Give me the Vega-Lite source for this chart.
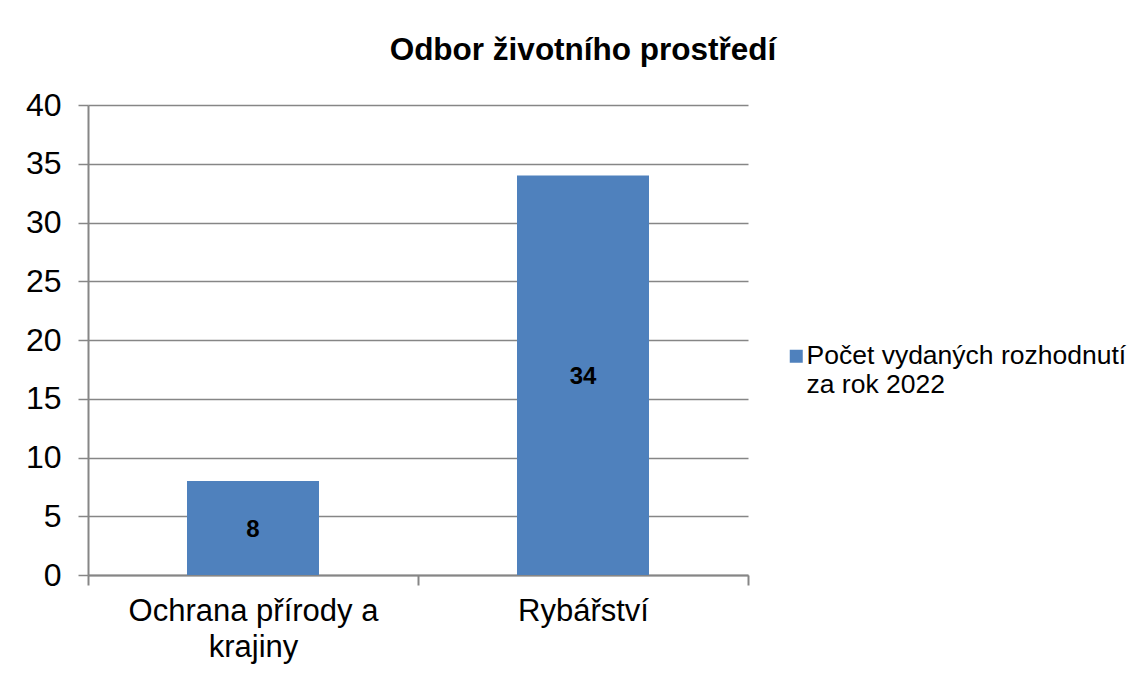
{
  "$schema": "https://vega.github.io/schema/vega-lite/v6.json",
  "autosize": {"type": "none"},
  "width": 660,
  "height": 470,
  "padding": {"left": 88, "top": 105, "right": 398, "bottom": 100},
  "background": "white",
  "title": {
    "text": "Odbor životního prostředí",
    "font": "Liberation Sans",
    "fontSize": 31.5,
    "fontWeight": "bold",
    "color": "#000000",
    "anchor": "middle",
    "frame": "group",
    "dx": 165,
    "offset": 23
  },
  "data": {
    "values": [
      {"category": "Ochrana přírody a krajiny", "value": 8, "series": "Počet vydaných rozhodnutí za rok 2022"},
      {"category": "Rybářství", "value": 34, "series": "Počet vydaných rozhodnutí za rok 2022"}
    ]
  },
  "encoding": {
    "x": {
      "field": "category",
      "type": "nominal",
      "sort": null,
      "scale": {"paddingInner": 0, "paddingOuter": 0},
      "axis": {
        "title": null,
        "labelAngle": 0,
        "labelFont": "Liberation Sans",
        "labelFontSize": 31,
        "labelColor": "#000000",
        "labelPadding": 11,
        "labelLineHeight": 36,
        "labelLimit": 500,
        "labelExpr": "datum.value == 'Ochrana přírody a krajiny' ? ['Ochrana přírody a', 'krajiny'] : datum.value",
        "tickBand": "extent",
        "tickSize": 10,
        "tickColor": "#868686",
        "tickWidth": 2,
        "domainColor": "#868686",
        "domainWidth": 2,
        "grid": false
      }
    }
  },
  "layer": [
    {
      "mark": {"type": "bar", "width": {"band": 0.4}, "color": "#4F81BD"},
      "encoding": {
        "y": {
          "field": "value",
          "type": "quantitative",
          "scale": {"domain": [0, 40]},
          "axis": {
            "title": null,
            "values": [0, 5, 10, 15, 20, 25, 30, 35, 40],
            "labelFont": "Liberation Sans",
            "labelFontSize": 32,
            "labelColor": "#000000",
            "labelPadding": 17,
            "tickSize": 10,
            "tickColor": "#868686",
            "tickWidth": 1.5,
            "domainColor": "#868686",
            "domainWidth": 2,
            "gridColor": "#868686",
            "gridWidth": 1.5
          }
        },
        "color": {
          "field": "series",
          "type": "nominal",
          "scale": {"range": ["#4F81BD"]},
          "legend": {
            "title": null,
            "orient": "none",
            "legendX": 695,
            "legendY": 238,
            "symbolType": "square",
            "symbolSize": 169,
            "symbolStrokeWidth": 0,
            "labelFont": "Liberation Sans",
            "labelFontSize": 26.5,
            "labelColor": "#000000",
            "labelLimit": 400,
            "labelOffset": -3,
            "labelLineHeight": 36,
            "labelExpr": "['Počet vydaných rozhodnutí', 'za rok 2022']"
          }
        }
      }
    },
    {
      "mark": {"type": "text", "font": "Liberation Sans", "fontSize": 24, "fontWeight": "bold", "color": "#000000", "baseline": "middle", "dy": 2},
      "encoding": {
        "y": {"field": "value", "type": "quantitative", "scale": {"domain": [0, 80]}, "axis": null},
        "text": {"field": "value", "type": "quantitative"}
      }
    }
  ],
  "resolve": {"scale": {"y": "independent"}},
  "config": {"view": {"stroke": null}}
}
